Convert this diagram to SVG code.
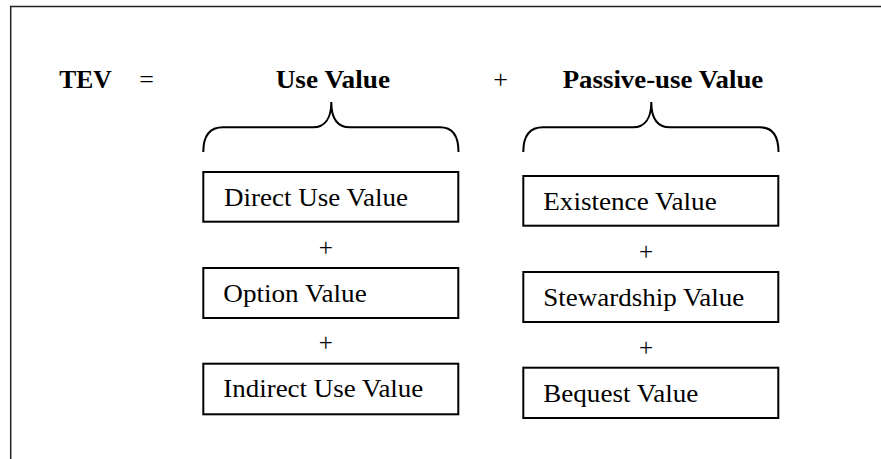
<svg xmlns="http://www.w3.org/2000/svg" width="881" height="459" viewBox="0 0 881 459">
<style>
.frame{fill:none;stroke:#222;stroke-width:1.5}
.box{fill:#fff;stroke:#000;stroke-width:2}
.brace{fill:none;stroke:#000;stroke-width:2}
text{font-family:'Liberation Serif','Times New Roman',serif;fill:#000}
.hd{font-size:26px;font-weight:bold}
.op{font-size:26px;text-anchor:middle}
.tx{font-size:25px}
.pl{font-size:25px;text-anchor:middle}
</style>
<rect width="881" height="459" fill="#fff"/>
<path class="frame" d="M10.7,459 L10.7,6.5 L881,6.5"/>
<g id="header">
<text class="hd" x="59.3" y="88" textLength="52.4" lengthAdjust="spacingAndGlyphs">TEV</text>
<text class="op" x="146.5" y="88">=</text>
<text class="hd" x="275.7" y="88" textLength="114.3" lengthAdjust="spacingAndGlyphs">Use Value</text>
<text class="op" x="500.5" y="88">+</text>
<text class="hd" x="562.7" y="88" textLength="200.6" lengthAdjust="spacingAndGlyphs">Passive-use Value</text>
</g>
<g id="connectors">
<path class="brace" d="M203.3,152 C203.3,135 210,127.3 223,127.3 L313,127.3 C325,127.3 331.3,118 331.3,102 C331.3,118 337.5,127.3 350,127.3 L440,127.3 C452,127.3 458.5,135 458.5,152"/>
<path class="brace" d="M523.3,152 C523.3,135 530,127.3 543,127.3 L633,127.3 C645,127.3 651.3,118 651.3,102 C651.3,118 657.5,127.3 670,127.3 L760,127.3 C772,127.3 778.5,135 778.5,152"/>
</g>
<g id="direct-use">
<rect class="box" x="203.3" y="172" width="255" height="49.7"/>
<text class="tx" x="224" y="206" textLength="184" lengthAdjust="spacingAndGlyphs">Direct Use Value</text>
</g>
<text class="pl" x="325.7" y="255.6">+</text>
<g id="option">
<rect class="box" x="203.3" y="268" width="255" height="50"/>
<text class="tx" x="223.3" y="301.7" textLength="143.4" lengthAdjust="spacingAndGlyphs">Option Value</text>
</g>
<text class="pl" x="325.7" y="351.3">+</text>
<g id="indirect-use">
<rect class="box" x="203.3" y="363.7" width="255" height="50.6"/>
<text class="tx" x="223.3" y="397.3" textLength="200" lengthAdjust="spacingAndGlyphs">Indirect Use Value</text>
</g>
<g id="existence">
<rect class="box" x="523.3" y="176" width="255" height="49.7"/>
<text class="tx" x="543.3" y="210" textLength="173.4" lengthAdjust="spacingAndGlyphs">Existence Value</text>
</g>
<text class="pl" x="646" y="259.6">+</text>
<g id="stewardship">
<rect class="box" x="523.3" y="272" width="255" height="50"/>
<text class="tx" x="543.3" y="305.5" textLength="201" lengthAdjust="spacingAndGlyphs">Stewardship Value</text>
</g>
<text class="pl" x="646" y="355.6">+</text>
<g id="bequest">
<rect class="box" x="523.3" y="367.7" width="255" height="50.3"/>
<text class="tx" x="543.3" y="401.5" textLength="155" lengthAdjust="spacingAndGlyphs">Bequest Value</text>
</g>
</svg>
